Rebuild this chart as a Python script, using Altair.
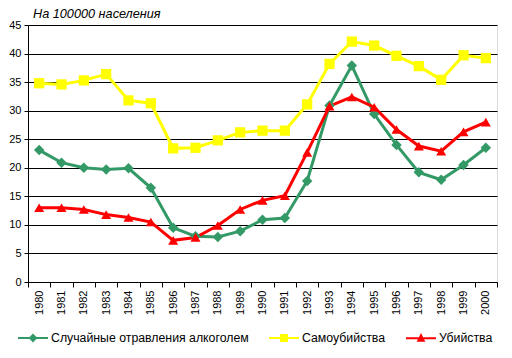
import altair as alt
import pandas as pd

years = [str(y) for y in range(1980, 2001)]
alcohol = [23.1, 20.9, 20.0, 19.7, 19.9, 16.5, 9.5, 8.0, 7.9, 8.9, 10.9,
           11.2, 17.7, 30.9, 37.9, 29.4, 24.0, 19.2, 17.9, 20.5, 23.5]
suicides = [34.8, 34.6, 35.3, 36.4, 31.8, 31.3, 23.4, 23.5, 24.8, 26.2, 26.5,
            26.5, 31.1, 38.2, 42.1, 41.4, 39.6, 37.8, 35.4, 39.7, 39.2]
homicides = [13.0, 13.0, 12.7, 11.8, 11.3, 10.5, 7.3, 7.8, 9.9, 12.7, 14.3,
             15.1, 22.7, 30.8, 32.4, 30.6, 26.7, 23.8, 22.9, 26.3, 28.0]
series = ["Случайные отравления алкоголем", "Самоубийства", "Убийства"]
colors = ["#339966", "#FFFF00", "#FF0000"]
title_text = "На 100000 населения"

rows = []
for name, vals in zip(series, [alcohol, suicides, homicides]):
    for y, v in zip(years, vals):
        rows.append({"year": y, "value": v, "series": name})
df = pd.DataFrame(rows)

FONT = "Liberation Sans"

x = alt.X("year:O", scale=alt.Scale(type="band", domain=years, paddingInner=0, paddingOuter=0),
          axis=alt.Axis(title=None, labelAngle=-90, tickBand="extent", tickSize=5, labelPadding=3,
                        labelFontSize=11, labelFont=FONT, labelColor="black",
                        domainColor="black", tickColor="black"))
y = alt.Y("value:Q", scale=alt.Scale(domain=[0, 45], nice=False),
          axis=alt.Axis(title=None, values=list(range(0, 50, 5)), tickSize=4, labelPadding=3,
                        labelFontSize=11, labelFont=FONT, labelColor="black",
                        domainColor="black", tickColor="black",
                        grid=True, gridColor="black", gridOpacity=1, gridWidth=1))

cscale = alt.Scale(domain=series, range=colors)
base = alt.Chart(df)

lines = base.mark_line(strokeWidth=3).encode(
    x=x, y=y, color=alt.Color("series:N", scale=cscale, legend=None), detail="series:N")

points = base.mark_point(filled=True, opacity=1, size=110).encode(
    x=x, y=y,
    color=alt.Color("series:N", scale=cscale, legend=None),
    shape=alt.Shape("series:N", scale=alt.Scale(domain=series, range=["diamond", "square", "triangle-up"]),
                    legend=None),
    size=alt.Size("series:N", scale=alt.Scale(domain=series, range=[110, 100, 70]), legend=None))

leg_paths = [
    "M-1,0H1M0,-0.2L0.2,0L0,0.2L-0.2,0Z",
    "M-1,0H1M-0.2,-0.2H0.2V0.2H-0.2Z",
    "M-1,0H1M0,-0.2L0.18,0.16H-0.18Z",
]
leg = alt.Legend(title=None, orient="none", legendX=-11, legendY=297, direction="horizontal",
                 symbolSize=900, symbolStrokeWidth=2, symbolOpacity=1, labelFontSize=12.3,
                 labelFont=FONT, labelColor="black", labelOffset=2, columnPadding=16,
                 labelLimit=400)
legend_layer = base.transform_filter("false").mark_point(filled=True).encode(
    x=x, y=y,
    fill=alt.Fill("series:N", scale=alt.Scale(domain=series, range=colors), legend=leg),
    stroke=alt.Stroke("series:N", scale=alt.Scale(domain=series, range=colors), legend=leg),
    shape=alt.Shape("series:N", scale=alt.Scale(domain=series, range=leg_paths), legend=leg))

chart = alt.layer(lines, points, legend_layer).resolve_scale(
    shape="independent", fill="independent", stroke="independent", size="independent"
).properties(
    width=469, height=257,
    title=alt.TitleParams(title_text, anchor="start", frame="group", fontStyle="italic",
                          fontWeight="normal", fontSize=12.7, font=FONT, color="black",
                          offset=5, dx=5, dy=7),
    autosize=alt.AutoSizeParams(type="none"),
    padding={"left": 28, "top": 25, "right": 15, "bottom": 76},
).configure_view(stroke="black", strokeWidth=1).configure(background="white")

chart.save("out.html", embed_options={"renderer": "svg", "actions": False})
